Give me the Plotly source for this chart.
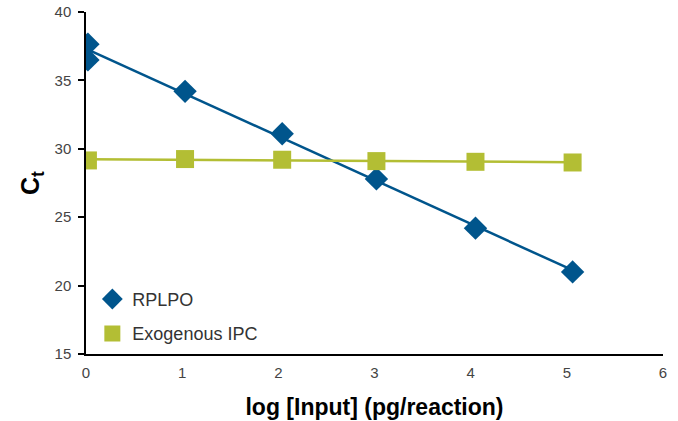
import numpy as np
import plotly.graph_objects as go

# Data
rplpo_x = [0.02, 0.02, 1.03, 2.04, 3.02, 4.05, 5.06]
rplpo_y = [37.65, 36.5, 34.2, 31.1, 27.8, 24.2, 21.0]
ipc_x = [0.02, 1.03, 2.04, 3.02, 4.05, 5.06]
ipc_y = [29.15, 29.25, 29.2, 29.1, 29.05, 29.0]

x_ticks = [0, 1, 2, 3, 4, 5, 6]
y_ticks = [15, 20, 25, 30, 35, 40]

BLUE = "#00558C"
OLIVE = "#B3BE34"
FONT = "Liberation Sans, Arial, sans-serif"

fig = go.Figure()

def fit_line(xs, ys):
    m, b = np.polyfit(xs, ys, 1)
    lx = np.array([min(xs), max(xs)])
    return lx, m * lx + b

lx, ly = fit_line(rplpo_x, rplpo_y)
fig.add_trace(go.Scatter(x=lx, y=ly, mode="lines", line=dict(color=BLUE, width=2.5),
                         showlegend=False, hoverinfo="skip"))
lx2, ly2 = fit_line(ipc_x, ipc_y)
fig.add_trace(go.Scatter(x=lx2, y=ly2, mode="lines", line=dict(color=OLIVE, width=2.5),
                         showlegend=False, hoverinfo="skip"))

fig.add_trace(go.Scatter(x=rplpo_x, y=rplpo_y, mode="markers", name="RPLPO",
                         legendgroup="a",
                         marker=dict(symbol="diamond", size=18, color=BLUE)))
fig.add_trace(go.Scatter(x=ipc_x, y=ipc_y, mode="markers", name="Exogenous IPC",
                         legendgroup="b",
                         marker=dict(symbol="square", size=18, color=OLIVE)))

fig.update_layout(
    width=678, height=421,
    margin=dict(l=86, r=15, t=12, b=67, autoexpand=False),
    paper_bgcolor="white", plot_bgcolor="white",
    font=dict(family=FONT, color="#333333"),
    legend=dict(x=0.011, y=0.214, xanchor="left", yanchor="top",
                bgcolor="rgba(0,0,0,0)", font=dict(size=18, color="#333333"),
                itemsizing="trace", itemwidth=30, tracegroupgap=8),
    xaxis=dict(range=[0, 6], tickvals=x_ticks, showgrid=False, zeroline=False,
               showline=True, linecolor="black", linewidth=1.5,
               ticks="outside", ticklen=4, tickcolor="rgba(0,0,0,0)",
               tickfont=dict(size=15, color="#444444"), automargin=False,
               ticklabeloverflow="allow",
               title=dict(text="<b>log [Input] (pg/reaction)</b>",
                          font=dict(size=23, color="black", family=FONT),
                          standoff=19)),
    yaxis=dict(range=[15, 40], tickvals=y_ticks, showgrid=False, zeroline=False,
               showline=True, linecolor="black", linewidth=1.5, ticks="outside",
               ticklen=6, tickcolor="black", tickwidth=1.5, ticklabelstandoff=4,
               tickfont=dict(size=15, color="#444444"), automargin=False,
               ticklabeloverflow="allow",
               title=dict(text="<b>C<sub>t</sub></b>",
                          font=dict(size=25, color="black", family=FONT), standoff=8)),
)

fig.write_html("out.html", config={"displayModeBar": False},
               post_script="document.body.style.margin='0';")
